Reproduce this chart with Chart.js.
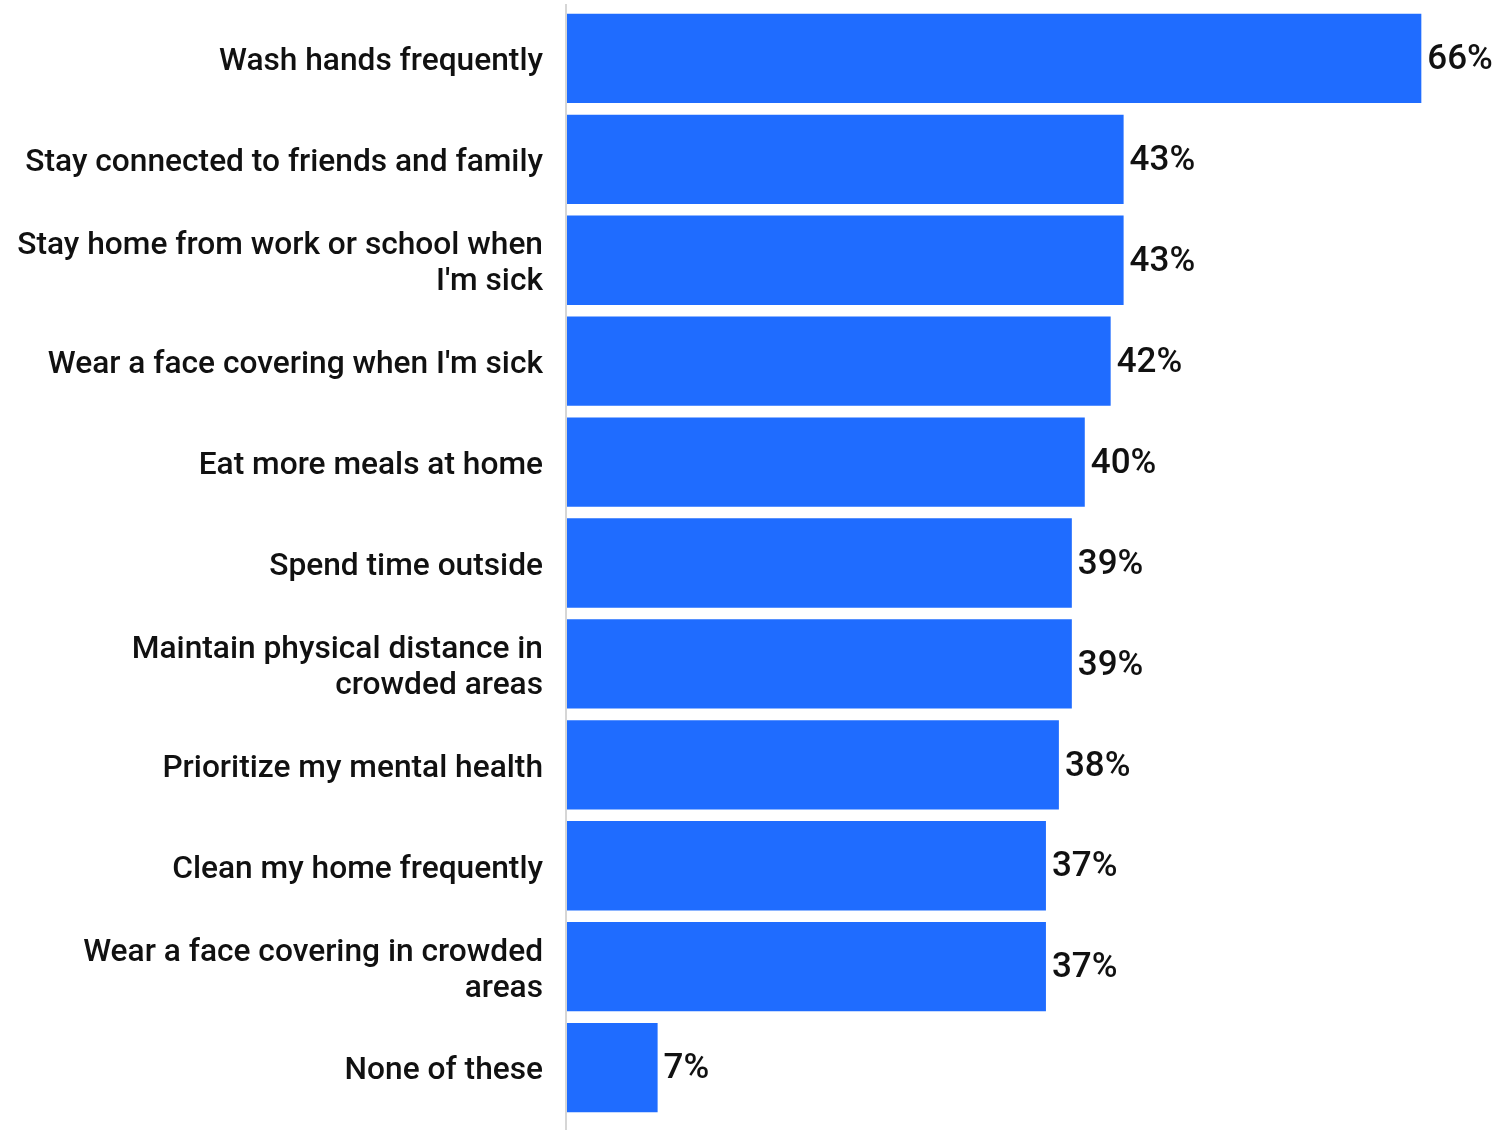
<!DOCTYPE html>
<html>
<head>
<meta charset="utf-8">
<script src="https://cdn.jsdelivr.net/npm/chart.js@4"></script>
<style>
html,body{margin:0;padding:0;background:#fff;}
#wrap{width:1499px;height:1130px;position:relative;}
</style>
</head>
<body>
<div id="wrap"><canvas id="c" width="1499" height="1130"></canvas></div>
<script>
const categories = [
  "Wash hands frequently",
  "Stay connected to friends and family",
  ["Stay home from work or school when", "I'm sick"],
  "Wear a face covering when I'm sick",
  "Eat more meals at home",
  "Spend time outside",
  ["Maintain physical distance in", "crowded areas"],
  "Prioritize my mental health",
  "Clean my home frequently",
  ["Wear a face covering in crowded", "areas"],
  "None of these"
];
const values = [66, 43, 43, 42, 40, 39, 39, 38, 37, 37, 7];
const valueLabels = values.map(v => v + "%");

const axisLinePlugin = {
  id: 'axisLine',
  beforeDatasetsDraw(chart) {
    const ctx = chart.ctx;
    const x = chart.scales.y.right;
    ctx.save();
    ctx.strokeStyle = '#d6d6d6';
    ctx.lineWidth = 2;
    ctx.beginPath();
    ctx.moveTo(x - 1, 4);
    ctx.lineTo(x - 1, chart.height);
    ctx.stroke();
    ctx.restore();
  }
};

const labelPlugin = {
  id: 'valueLabels',
  afterDatasetsDraw(chart) {
    const ctx = chart.ctx;
    const meta = chart.getDatasetMeta(0);
    ctx.save();
    ctx.font = '500 35px Roboto';
    ctx.fillStyle = '#111';
    ctx.textAlign = 'left';
    ctx.textBaseline = 'middle';
    meta.data.forEach((bar, i) => {
      ctx.fillText(valueLabels[i], bar.x + 6, bar.y + 2);
    });
    ctx.restore();
  }
};

new Chart(document.getElementById('c'), {
  type: 'bar',
  data: {
    labels: categories,
    datasets: [{
      data: values,
      backgroundColor: '#1f6cff',
      borderWidth: 0,
      categoryPercentage: 0.885,
      barPercentage: 1.0
    }]
  },
  options: {
    indexAxis: 'y',
    responsive: false,
    animation: false,
    layout: { padding: { top: 8, bottom: 12, right: 0, left: 0 } },
    plugins: { legend: { display: false }, tooltip: { enabled: false } },
    scales: {
      x: {
        min: 0, max: 72,
        display: false
      },
      y: {
        grid: { display: false, drawTicks: false },
        border: { display: false },
        afterFit(scale) {
          scale.width = 567;
          scale.paddingTop = 0;
          scale.paddingBottom = 0;
        },
        ticks: {
          color: '#111',
          padding: 24,
          labelOffset: 4,
          font: { family: 'Roboto', size: 31.7, weight: '500', lineHeight: 1.136 }
        }
      }
    }
  },
  plugins: [axisLinePlugin, labelPlugin]
});
</script>
</body>
</html>
